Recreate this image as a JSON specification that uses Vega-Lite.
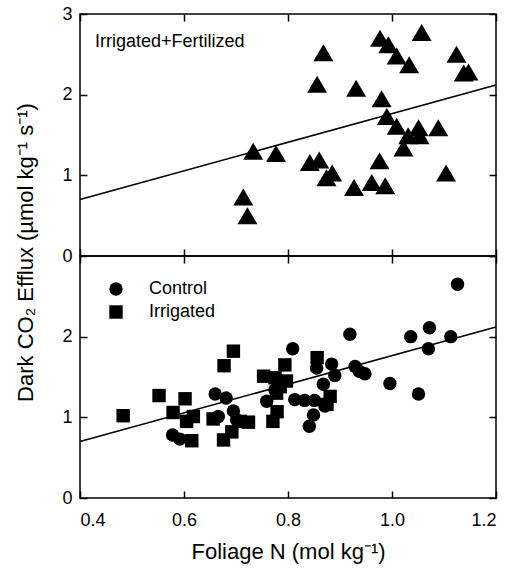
{
  "$schema": "https://vega.github.io/schema/vega-lite/v6.json",
  "padding": {"left": 13, "top": 4, "right": 5, "bottom": 5},
  "background": "white",
  "bounds": "flush",
  "spacing": 0,
  "config": {
    "view": {"stroke": "black", "strokeWidth": 1.5},
    "font": "Liberation Sans",
    "axis": {
      "domain": false, "grid": false,
      "tickColor": "black", "tickWidth": 1.5, "tickSize": -7,
      "labelFont": "Liberation Sans", "labelFontSize": 18, "labelColor": "black",
      "titleFont": "Liberation Sans", "titleFontSize": 22, "titleFontWeight": "normal", "titleColor": "black"
    },
    "legend": {"labelFont": "Liberation Sans", "labelFontSize": 18, "labelColor": "black"}
  },
  "datasets": {
    "pts": [
      {"N": 0.714, "E": 0.73, "group": "Irrigated+Fertilized"},
      {"N": 0.722, "E": 0.50, "group": "Irrigated+Fertilized"},
      {"N": 0.733, "E": 1.30, "group": "Irrigated+Fertilized"},
      {"N": 0.777, "E": 1.27, "group": "Irrigated+Fertilized"},
      {"N": 0.842, "E": 1.16, "group": "Irrigated+Fertilized"},
      {"N": 0.860, "E": 1.19, "group": "Irrigated+Fertilized"},
      {"N": 0.856, "E": 2.13, "group": "Irrigated+Fertilized"},
      {"N": 0.868, "E": 2.52, "group": "Irrigated+Fertilized"},
      {"N": 0.874, "E": 0.97, "group": "Irrigated+Fertilized"},
      {"N": 0.885, "E": 1.03, "group": "Irrigated+Fertilized"},
      {"N": 0.927, "E": 0.85, "group": "Irrigated+Fertilized"},
      {"N": 0.931, "E": 2.08, "group": "Irrigated+Fertilized"},
      {"N": 0.961, "E": 0.91, "group": "Irrigated+Fertilized"},
      {"N": 0.976, "E": 1.18, "group": "Irrigated+Fertilized"},
      {"N": 0.987, "E": 0.87, "group": "Irrigated+Fertilized"},
      {"N": 0.980, "E": 1.95, "group": "Irrigated+Fertilized"},
      {"N": 0.990, "E": 1.73, "group": "Irrigated+Fertilized"},
      {"N": 0.977, "E": 2.70, "group": "Irrigated+Fertilized"},
      {"N": 0.993, "E": 2.62, "group": "Irrigated+Fertilized"},
      {"N": 1.009, "E": 2.48, "group": "Irrigated+Fertilized"},
      {"N": 1.009, "E": 1.61, "group": "Irrigated+Fertilized"},
      {"N": 1.033, "E": 2.37, "group": "Irrigated+Fertilized"},
      {"N": 1.022, "E": 1.34, "group": "Irrigated+Fertilized"},
      {"N": 1.031, "E": 1.49, "group": "Irrigated+Fertilized"},
      {"N": 1.051, "E": 1.59, "group": "Irrigated+Fertilized"},
      {"N": 1.053, "E": 1.49, "group": "Irrigated+Fertilized"},
      {"N": 1.057, "E": 2.77, "group": "Irrigated+Fertilized"},
      {"N": 1.089, "E": 1.59, "group": "Irrigated+Fertilized"},
      {"N": 1.104, "E": 1.03, "group": "Irrigated+Fertilized"},
      {"N": 1.124, "E": 2.50, "group": "Irrigated+Fertilized"},
      {"N": 1.138, "E": 2.27, "group": "Irrigated+Fertilized"},
      {"N": 1.147, "E": 2.28, "group": "Irrigated+Fertilized"},
      {"N": 0.578, "E": 0.78, "group": "Control"},
      {"N": 0.592, "E": 0.73, "group": "Control"},
      {"N": 0.660, "E": 1.29, "group": "Control"},
      {"N": 0.681, "E": 1.24, "group": "Control"},
      {"N": 0.666, "E": 1.01, "group": "Control"},
      {"N": 0.695, "E": 1.08, "group": "Control"},
      {"N": 0.701, "E": 0.97, "group": "Control"},
      {"N": 0.759, "E": 1.20, "group": "Control"},
      {"N": 0.775, "E": 1.34, "group": "Control"},
      {"N": 0.809, "E": 1.85, "group": "Control"},
      {"N": 0.813, "E": 1.22, "group": "Control"},
      {"N": 0.832, "E": 1.21, "group": "Control"},
      {"N": 0.851, "E": 1.21, "group": "Control"},
      {"N": 0.841, "E": 0.89, "group": "Control"},
      {"N": 0.849, "E": 1.03, "group": "Control"},
      {"N": 0.855, "E": 1.61, "group": "Control"},
      {"N": 0.884, "E": 1.66, "group": "Control"},
      {"N": 0.868, "E": 1.41, "group": "Control"},
      {"N": 0.871, "E": 1.14, "group": "Control"},
      {"N": 0.890, "E": 1.52, "group": "Control"},
      {"N": 0.919, "E": 2.03, "group": "Control"},
      {"N": 0.929, "E": 1.63, "group": "Control"},
      {"N": 0.937, "E": 1.57, "group": "Control"},
      {"N": 0.948, "E": 1.54, "group": "Control"},
      {"N": 0.996, "E": 1.42, "group": "Control"},
      {"N": 1.036, "E": 2.00, "group": "Control"},
      {"N": 1.051, "E": 1.29, "group": "Control"},
      {"N": 1.072, "E": 2.11, "group": "Control"},
      {"N": 1.070, "E": 1.85, "group": "Control"},
      {"N": 1.113, "E": 2.00, "group": "Control"},
      {"N": 1.126, "E": 2.65, "group": "Control"},
      {"N": 0.483, "E": 1.02, "group": "Irrigated"},
      {"N": 0.552, "E": 1.27, "group": "Irrigated"},
      {"N": 0.579, "E": 1.06, "group": "Irrigated"},
      {"N": 0.602, "E": 1.23, "group": "Irrigated"},
      {"N": 0.605, "E": 0.95, "group": "Irrigated"},
      {"N": 0.618, "E": 1.01, "group": "Irrigated"},
      {"N": 0.615, "E": 0.71, "group": "Irrigated"},
      {"N": 0.656, "E": 0.98, "group": "Irrigated"},
      {"N": 0.676, "E": 0.72, "group": "Irrigated"},
      {"N": 0.692, "E": 0.82, "group": "Irrigated"},
      {"N": 0.677, "E": 1.64, "group": "Irrigated"},
      {"N": 0.695, "E": 1.82, "group": "Irrigated"},
      {"N": 0.708, "E": 0.95, "group": "Irrigated"},
      {"N": 0.724, "E": 0.94, "group": "Irrigated"},
      {"N": 0.753, "E": 1.51, "group": "Irrigated"},
      {"N": 0.775, "E": 1.49, "group": "Irrigated"},
      {"N": 0.797, "E": 1.45, "group": "Irrigated"},
      {"N": 0.785, "E": 1.38, "group": "Irrigated"},
      {"N": 0.778, "E": 1.30, "group": "Irrigated"},
      {"N": 0.771, "E": 0.95, "group": "Irrigated"},
      {"N": 0.779, "E": 1.07, "group": "Irrigated"},
      {"N": 0.794, "E": 1.65, "group": "Irrigated"},
      {"N": 0.856, "E": 1.74, "group": "Irrigated"},
      {"N": 0.881, "E": 1.26, "group": "Irrigated"},
      {"N": 0.875, "E": 1.16, "group": "Irrigated"}
    ],
    "fit": [
      {"N": 0.4, "E": 0.70},
      {"N": 1.2, "E": 2.12}
    ]
  },
  "vconcat": [
    {
      "width": 416,
      "height": 242,
      "title": {"text": "Irrigated+Fertilized", "anchor": "start", "frame": "group", "offset": -60, "dx": 15, "fontSize": 18, "fontWeight": "normal", "font": "Liberation Sans", "color": "black", "baseline": "alphabetic"},
      "layer": [
        {
          "data": {"name": "fit"},
          "mark": {"type": "line", "color": "black", "strokeWidth": 1.5},
          "encoding": {
            "x": {"field": "N", "type": "quantitative", "scale": {"domain": [0.4, 1.2], "nice": false, "zero": false},
                  "axis": {"orient": "bottom", "values": [0.4, 0.6, 0.8, 1.0, 1.2], "labels": false, "title": null}},
            "y": {"field": "E", "type": "quantitative", "scale": {"domain": [0, 3], "nice": false},
                  "axis": {"orient": "left", "values": [0, 1, 2, 3], "labelPadding": 15, "title": null}}
          }
        },
        {
          "data": {"name": "pts"},
          "transform": [{"filter": "datum.group === 'Irrigated+Fertilized'"}],
          "mark": {"type": "point", "shape": "M-1,0.85L1,0.85L0,-0.85Z", "filled": true, "color": "black", "opacity": 1, "size": 400, "strokeWidth": 0},
          "encoding": {
            "x": {"field": "N", "type": "quantitative",
                  "axis": {"orient": "top", "values": [0.4, 0.6, 0.8, 1.0, 1.2], "labels": false, "title": null}},
            "y": {"field": "E", "type": "quantitative",
                  "axis": {"orient": "right", "values": [0, 1, 2, 3], "labels": false, "title": null}}
          }
        }
      ],
      "resolve": {"axis": {"x": "independent", "y": "independent"}}
    },
    {
      "width": 416,
      "height": 242,
      "layer": [
        {
          "data": {"name": "fit"},
          "mark": {"type": "line", "color": "black", "strokeWidth": 1.5},
          "encoding": {
            "x": {"field": "N", "type": "quantitative", "scale": {"domain": [0.4, 1.2], "nice": false, "zero": false},
                  "axis": {"orient": "bottom", "values": [0.4, 0.6, 0.8, 1.0, 1.2], "format": ".1f", "labelPadding": 20, "title": "Foliage N (mol kg⁻¹)", "titlePadding": 12}},
            "y": {"field": "E", "type": "quantitative", "scale": {"domain": [0, 3], "nice": false},
                  "axis": {"orient": "left", "values": [0, 1, 2], "labelPadding": 15, "title": "Dark CO₂ Efflux (µmol  kg⁻¹ s⁻¹)", "titleX": -48, "titleY": -4, "titleBaseline": "alphabetic", "titleAngle": -90}}
          }
        },
        {
          "data": {"name": "pts"},
          "transform": [{"filter": "datum.group !== 'Irrigated+Fertilized'"}],
          "mark": {"type": "point", "filled": true, "color": "black", "opacity": 1, "size": 180, "strokeWidth": 0},
          "encoding": {
            "x": {"field": "N", "type": "quantitative",
                  "axis": {"orient": "top", "values": [0.4, 0.6, 0.8, 1.0, 1.2], "labels": false, "title": null}},
            "y": {"field": "E", "type": "quantitative",
                  "axis": {"orient": "right", "values": [0, 1, 2, 3], "labels": false, "title": null}},
            "shape": {"field": "group", "type": "nominal",
                      "scale": {"domain": ["Control", "Irrigated"], "range": ["circle", "square"]},
                      "legend": {"title": null, "orient": "none", "legendX": 27, "legendY": 266, "padding": 0,
                                 "symbolSize": 180, "symbolFillColor": "black", "symbolStrokeWidth": 0,
                                 "labelOffset": 24, "rowPadding": 5}}
          }
        }
      ],
      "resolve": {"axis": {"x": "independent", "y": "independent"}}
    }
  ]
}
